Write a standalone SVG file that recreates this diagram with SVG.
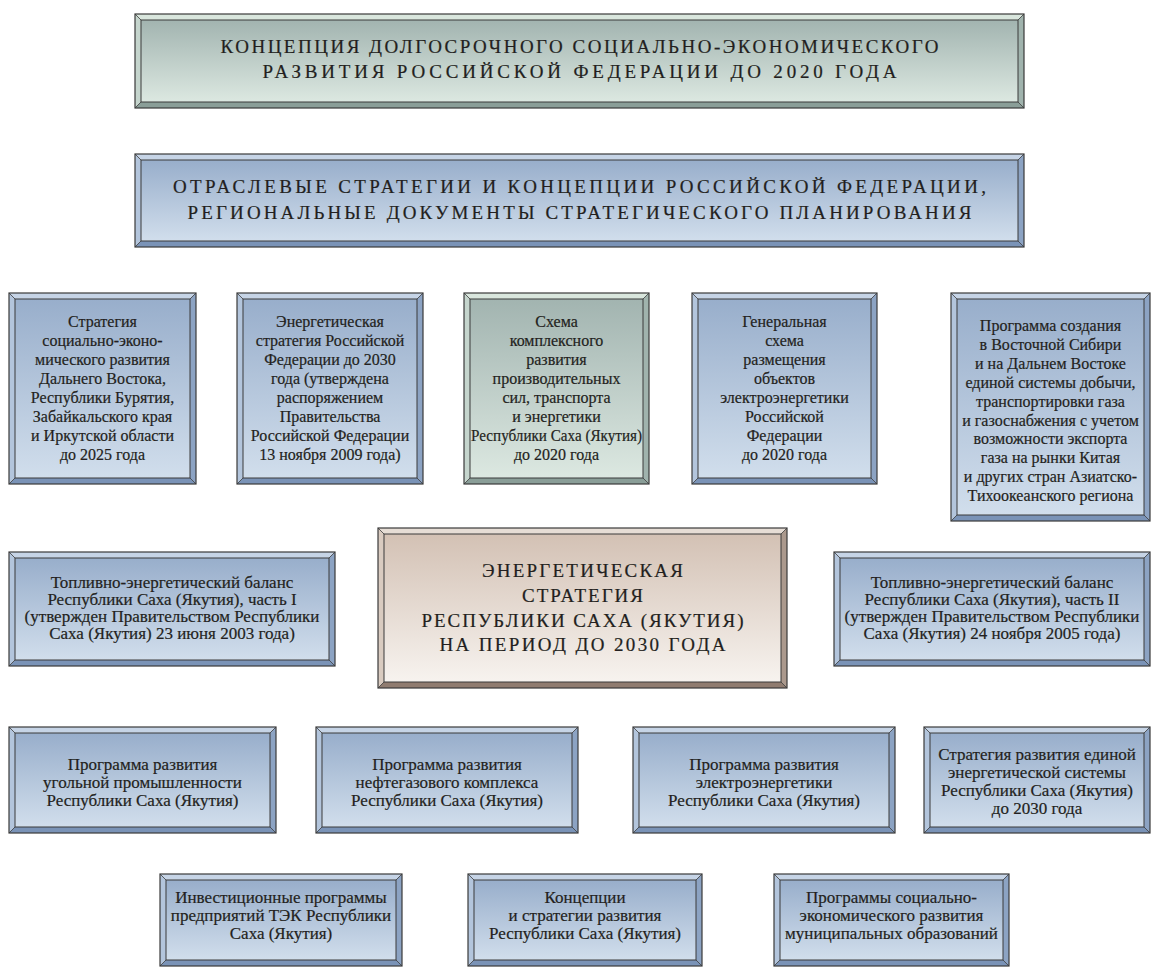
<svg xmlns="http://www.w3.org/2000/svg" width="1159" height="967" viewBox="0 0 1159 967">
<defs>
<linearGradient id="gBlue" x1="0" y1="0" x2="0" y2="1"><stop offset="0" stop-color="#98aecb"/><stop offset="1" stop-color="#d1deec"/></linearGradient>
<linearGradient id="gGreen" x1="0" y1="0" x2="0" y2="1"><stop offset="0" stop-color="#a2b4b0"/><stop offset="1" stop-color="#dce8e1"/></linearGradient>
<linearGradient id="gBrown" x1="0" y1="0" x2="0" y2="1"><stop offset="0" stop-color="#d3c1b4"/><stop offset="1" stop-color="#f7f3ef"/></linearGradient>
<style>
.bt,.bl,.br,.bb{stroke:none}
.blue .bt{fill:#c6d4e6}.blue .bl{fill:#b3c5dc}.blue .br{fill:#8ca3c3}.blue .bb{fill:#7a93b7}
.green .bt{fill:#d9e6dd}.green .bl{fill:#c5d5cd}.green .br{fill:#a0b3ad}.green .bb{fill:#8a9e98}
.brown .bt{fill:#e6ddd5}.brown .bl{fill:#d9cbc0}.brown .br{fill:#ab998d}.brown .bb{fill:#907c70}
.blue .in{fill:url(#gBlue)}.green .in{fill:url(#gGreen)}.brown .in{fill:url(#gBrown)}
.in{stroke:#3a3a3a;stroke-width:1}
.out{fill:none;stroke:#3a3a3a;stroke-width:1.2}
.dg{fill:none;stroke:#3a3a3a;stroke-width:0.8}
text{font-family:"Liberation Serif","Times New Roman",serif;fill:#231f20;stroke:#231f20;stroke-width:0.2;text-anchor:middle}
.s{font-size:16px}
.m{font-size:17px}
.c{font-size:19px}
</style>
</defs>
<rect width="1159" height="967" fill="#ffffff"/>
<g id="connectors"/>

<g id="n-top" class="node green" transform="translate(135,14)">
<path class="bt" d="M0,0H889L883,6H6Z"/><path class="bl" d="M0,0L6,6V88L0,94Z"/><path class="br" d="M889,0V94L883,88V6Z"/><path class="bb" d="M0,94L6,88H883L889,94Z"/>
<rect class="in" x="6" y="6" width="877" height="82"/><rect class="out" x="0" y="0" width="889" height="94"/>
<path class="dg" d="M0,0L6,6M889,0L883,6M0,94L6,88M889,94L883,88"/>
<text class="c" x="444.5" y="39" textLength="718" lengthAdjust="spacing">КОНЦЕПЦИЯ ДОЛГОСРОЧНОГО СОЦИАЛЬНО-ЭКОНОМИЧЕСКОГО</text>
<text class="c" x="444.5" y="64" textLength="634" lengthAdjust="spacing">РАЗВИТИЯ РОССИЙСКОЙ ФЕДЕРАЦИИ ДО 2020 ГОДА</text>
</g>

<g id="n-second" class="node blue" transform="translate(135,154)">
<path class="bt" d="M0,0H889L883,6H6Z"/><path class="bl" d="M0,0L6,6V87L0,93Z"/><path class="br" d="M889,0V93L883,87V6Z"/><path class="bb" d="M0,93L6,87H883L889,93Z"/>
<rect class="in" x="6" y="6" width="877" height="81"/><rect class="out" x="0" y="0" width="889" height="93"/>
<path class="dg" d="M0,0L6,6M889,0L883,6M0,93L6,87M889,93L883,87"/>
<text class="c" x="444.5" y="39" textLength="813" lengthAdjust="spacing">ОТРАСЛЕВЫЕ СТРАТЕГИИ И КОНЦЕПЦИИ РОССИЙСКОЙ ФЕДЕРАЦИИ,</text>
<text class="c" x="444.5" y="65" textLength="784" lengthAdjust="spacing">РЕГИОНАЛЬНЫЕ ДОКУМЕНТЫ СТРАТЕГИЧЕСКОГО ПЛАНИРОВАНИЯ</text>
</g>

<g id="n-r3a" class="node blue" transform="translate(9,293)">
<path class="bt" d="M0,0H187L181,6H6Z"/><path class="bl" d="M0,0L6,6V185L0,191Z"/><path class="br" d="M187,0V191L181,185V6Z"/><path class="bb" d="M0,191L6,185H181L187,191Z"/>
<rect class="in" x="6" y="6" width="175" height="179"/><rect class="out" x="0" y="0" width="187" height="191"/>
<path class="dg" d="M0,0L6,6M187,0L181,6M0,191L6,185M187,191L181,185"/>
<text class="s" x="93.5" y="34">Стратегия</text>
<text class="s" x="93.5" y="53">социально-эконо-</text>
<text class="s" x="93.5" y="72">мического развития</text>
<text class="s" x="93.5" y="91">Дальнего Востока,</text>
<text class="s" x="93.5" y="110">Республики Бурятия,</text>
<text class="s" x="93.5" y="129">Забайкальского края</text>
<text class="s" x="93.5" y="148">и Иркутской области</text>
<text class="s" x="93.5" y="167">до 2025 года</text>
</g>

<g id="n-r3b" class="node blue" transform="translate(237,293)">
<path class="bt" d="M0,0H186L180,6H6Z"/><path class="bl" d="M0,0L6,6V185L0,191Z"/><path class="br" d="M186,0V191L180,185V6Z"/><path class="bb" d="M0,191L6,185H180L186,191Z"/>
<rect class="in" x="6" y="6" width="174" height="179"/><rect class="out" x="0" y="0" width="186" height="191"/>
<path class="dg" d="M0,0L6,6M186,0L180,6M0,191L6,185M186,191L180,185"/>
<text class="s" x="93" y="34">Энергетическая</text>
<text class="s" x="93" y="53">стратегия Российской</text>
<text class="s" x="93" y="72">Федерации до 2030</text>
<text class="s" x="93" y="91">года (утверждена</text>
<text class="s" x="93" y="110">распоряжением</text>
<text class="s" x="93" y="129">Правительства</text>
<text class="s" x="93" y="148">Российской Федерации</text>
<text class="s" x="93" y="167">13 ноября 2009 года)</text>
</g>

<g id="n-r3c" class="node green" transform="translate(464,293)">
<path class="bt" d="M0,0H185L179,6H6Z"/><path class="bl" d="M0,0L6,6V185L0,191Z"/><path class="br" d="M185,0V191L179,185V6Z"/><path class="bb" d="M0,191L6,185H179L185,191Z"/>
<rect class="in" x="6" y="6" width="173" height="179"/><rect class="out" x="0" y="0" width="185" height="191"/>
<path class="dg" d="M0,0L6,6M185,0L179,6M0,191L6,185M185,191L179,185"/>
<text class="s" x="92.5" y="34">Схема</text>
<text class="s" x="92.5" y="53">комплексного</text>
<text class="s" x="92.5" y="72">развития</text>
<text class="s" x="92.5" y="91">производительных</text>
<text class="s" x="92.5" y="110">сил, транспорта</text>
<text class="s" x="92.5" y="129">и энергетики</text>
<text class="s" x="92.5" y="148" textLength="171" lengthAdjust="spacingAndGlyphs">Республики Саха (Якутия)</text>
<text class="s" x="92.5" y="167">до 2020 года</text>
</g>

<g id="n-r3d" class="node blue" transform="translate(692,293)">
<path class="bt" d="M0,0H185L179,6H6Z"/><path class="bl" d="M0,0L6,6V185L0,191Z"/><path class="br" d="M185,0V191L179,185V6Z"/><path class="bb" d="M0,191L6,185H179L185,191Z"/>
<rect class="in" x="6" y="6" width="173" height="179"/><rect class="out" x="0" y="0" width="185" height="191"/>
<path class="dg" d="M0,0L6,6M185,0L179,6M0,191L6,185M185,191L179,185"/>
<text class="s" x="92.5" y="34">Генеральная</text>
<text class="s" x="92.5" y="53">схема</text>
<text class="s" x="92.5" y="72">размещения</text>
<text class="s" x="92.5" y="91">объектов</text>
<text class="s" x="92.5" y="110">электроэнергетики</text>
<text class="s" x="92.5" y="129">Российской</text>
<text class="s" x="92.5" y="148">Федерации</text>
<text class="s" x="92.5" y="167">до 2020 года</text>
</g>

<g id="n-r3e" class="node blue" transform="translate(951,293)">
<path class="bt" d="M0,0H199L193,6H6Z"/><path class="bl" d="M0,0L6,6V222L0,228Z"/><path class="br" d="M199,0V228L193,222V6Z"/><path class="bb" d="M0,228L6,222H193L199,228Z"/>
<rect class="in" x="6" y="6" width="187" height="216"/><rect class="out" x="0" y="0" width="199" height="228"/>
<path class="dg" d="M0,0L6,6M199,0L193,6M0,228L6,222M199,228L193,222"/>
<text class="s" x="99.5" y="38">Программа создания</text>
<text class="s" x="99.5" y="56.9">в Восточной Сибири</text>
<text class="s" x="99.5" y="75.8">и на Дальнем Востоке</text>
<text class="s" x="99.5" y="94.7">единой системы добычи,</text>
<text class="s" x="99.5" y="113.6">транспортировки газа</text>
<text class="s" x="99.5" y="132.5">и газоснабжения с учетом</text>
<text class="s" x="99.5" y="151.4">возможности экспорта</text>
<text class="s" x="99.5" y="170.3">газа на рынки Китая</text>
<text class="s" x="99.5" y="189.2">и других стран Азиатско-</text>
<text class="s" x="99.5" y="208.1">Тихоокеанского региона</text>
</g>

<g id="n-r4a" class="node blue" transform="translate(9,552)">
<path class="bt" d="M0,0H326L320,6H6Z"/><path class="bl" d="M0,0L6,6V108L0,114Z"/><path class="br" d="M326,0V114L320,108V6Z"/><path class="bb" d="M0,114L6,108H320L326,114Z"/>
<rect class="in" x="6" y="6" width="314" height="102"/><rect class="out" x="0" y="0" width="326" height="114"/>
<path class="dg" d="M0,0L6,6M326,0L320,6M0,114L6,108M326,114L320,108"/>
<text class="m" x="163" y="36">Топливно-энергетический баланс</text>
<text class="m" x="163" y="53">Республики Саха (Якутия), часть I</text>
<text class="m" x="163" y="70">(утвержден Правительством Республики</text>
<text class="m" x="163" y="87">Саха (Якутия) 23 июня 2003 года)</text>
</g>

<g id="n-center" class="node brown" transform="translate(378,528)">
<path class="bt" d="M0,0H409L403,6H6Z"/><path class="bl" d="M0,0L6,6V154L0,160Z"/><path class="br" d="M409,0V160L403,154V6Z"/><path class="bb" d="M0,160L6,154H403L409,160Z"/>
<rect class="in" x="6" y="6" width="397" height="148"/><rect class="out" x="0" y="0" width="409" height="160"/>
<path class="dg" d="M0,0L6,6M409,0L403,6M0,160L6,154M409,160L403,154"/>
<text class="c" x="204.5" y="49" textLength="201" lengthAdjust="spacing">ЭНЕРГЕТИЧЕСКАЯ</text>
<text class="c" x="204.5" y="74" textLength="121" lengthAdjust="spacing">СТРАТЕГИЯ</text>
<text class="c" x="204.5" y="99" textLength="322" lengthAdjust="spacing">РЕСПУБЛИКИ САХА (ЯКУТИЯ)</text>
<text class="c" x="204.5" y="123" textLength="286" lengthAdjust="spacing">НА ПЕРИОД ДО 2030 ГОДА</text>
</g>

<g id="n-r4c" class="node blue" transform="translate(834,552)">
<path class="bt" d="M0,0H316L310,6H6Z"/><path class="bl" d="M0,0L6,6V108L0,114Z"/><path class="br" d="M316,0V114L310,108V6Z"/><path class="bb" d="M0,114L6,108H310L316,114Z"/>
<rect class="in" x="6" y="6" width="304" height="102"/><rect class="out" x="0" y="0" width="316" height="114"/>
<path class="dg" d="M0,0L6,6M316,0L310,6M0,114L6,108M316,114L310,108"/>
<text class="m" x="158" y="36">Топливно-энергетический баланс</text>
<text class="m" x="158" y="53">Республики Саха (Якутия), часть II</text>
<text class="m" x="158" y="70">(утвержден Правительством Республики</text>
<text class="m" x="158" y="87">Саха (Якутия) 24 ноября 2005 года)</text>
</g>

<g id="n-r5a" class="node blue" transform="translate(9,727)">
<path class="bt" d="M0,0H267L261,6H6Z"/><path class="bl" d="M0,0L6,6V100L0,106Z"/><path class="br" d="M267,0V106L261,100V6Z"/><path class="bb" d="M0,106L6,100H261L267,106Z"/>
<rect class="in" x="6" y="6" width="255" height="94"/><rect class="out" x="0" y="0" width="267" height="106"/>
<path class="dg" d="M0,0L6,6M267,0L261,6M0,106L6,100M267,106L261,100"/>
<text class="m" x="133.5" y="43">Программа развития</text>
<text class="m" x="133.5" y="61">угольной промышленности</text>
<text class="m" x="133.5" y="79">Республики Саха (Якутия)</text>
</g>

<g id="n-r5b" class="node blue" transform="translate(316,727)">
<path class="bt" d="M0,0H262L256,6H6Z"/><path class="bl" d="M0,0L6,6V100L0,106Z"/><path class="br" d="M262,0V106L256,100V6Z"/><path class="bb" d="M0,106L6,100H256L262,106Z"/>
<rect class="in" x="6" y="6" width="250" height="94"/><rect class="out" x="0" y="0" width="262" height="106"/>
<path class="dg" d="M0,0L6,6M262,0L256,6M0,106L6,100M262,106L256,100"/>
<text class="m" x="131" y="43">Программа развития</text>
<text class="m" x="131" y="61">нефтегазового комплекса</text>
<text class="m" x="131" y="79">Республики Саха (Якутия)</text>
</g>

<g id="n-r5c" class="node blue" transform="translate(633,727)">
<path class="bt" d="M0,0H262L256,6H6Z"/><path class="bl" d="M0,0L6,6V100L0,106Z"/><path class="br" d="M262,0V106L256,100V6Z"/><path class="bb" d="M0,106L6,100H256L262,106Z"/>
<rect class="in" x="6" y="6" width="250" height="94"/><rect class="out" x="0" y="0" width="262" height="106"/>
<path class="dg" d="M0,0L6,6M262,0L256,6M0,106L6,100M262,106L256,100"/>
<text class="m" x="131" y="43">Программа развития</text>
<text class="m" x="131" y="61">электроэнергетики</text>
<text class="m" x="131" y="79">Республики Саха (Якутия)</text>
</g>

<g id="n-r5d" class="node blue" transform="translate(924,727)">
<path class="bt" d="M0,0H226L220,6H6Z"/><path class="bl" d="M0,0L6,6V100L0,106Z"/><path class="br" d="M226,0V106L220,100V6Z"/><path class="bb" d="M0,106L6,100H220L226,106Z"/>
<rect class="in" x="6" y="6" width="214" height="94"/><rect class="out" x="0" y="0" width="226" height="106"/>
<path class="dg" d="M0,0L6,6M226,0L220,6M0,106L6,100M226,106L220,100"/>
<text class="m" x="113" y="33">Стратегия развития единой</text>
<text class="m" x="113" y="51">энергетической системы</text>
<text class="m" x="113" y="69">Республики Саха (Якутия)</text>
<text class="m" x="113" y="87">до 2030 года</text>
</g>

<g id="n-r6a" class="node blue" transform="translate(160,874)">
<path class="bt" d="M0,0H242L236,6H6Z"/><path class="bl" d="M0,0L6,6V86L0,92Z"/><path class="br" d="M242,0V92L236,86V6Z"/><path class="bb" d="M0,92L6,86H236L242,92Z"/>
<rect class="in" x="6" y="6" width="230" height="80"/><rect class="out" x="0" y="0" width="242" height="92"/>
<path class="dg" d="M0,0L6,6M242,0L236,6M0,92L6,86M242,92L236,86"/>
<text class="m" x="121" y="29">Инвестиционные программы</text>
<text class="m" x="121" y="47">предприятий ТЭК Республики</text>
<text class="m" x="121" y="65">Саха (Якутия)</text>
</g>

<g id="n-r6b" class="node blue" transform="translate(468,874)">
<path class="bt" d="M0,0H234L228,6H6Z"/><path class="bl" d="M0,0L6,6V86L0,92Z"/><path class="br" d="M234,0V92L228,86V6Z"/><path class="bb" d="M0,92L6,86H228L234,92Z"/>
<rect class="in" x="6" y="6" width="222" height="80"/><rect class="out" x="0" y="0" width="234" height="92"/>
<path class="dg" d="M0,0L6,6M234,0L228,6M0,92L6,86M234,92L228,86"/>
<text class="m" x="117" y="29">Концепции</text>
<text class="m" x="117" y="47">и стратегии развития</text>
<text class="m" x="117" y="65">Республики Саха (Якутия)</text>
</g>

<g id="n-r6c" class="node blue" transform="translate(774,874)">
<path class="bt" d="M0,0H235L229,6H6Z"/><path class="bl" d="M0,0L6,6V86L0,92Z"/><path class="br" d="M235,0V92L229,86V6Z"/><path class="bb" d="M0,92L6,86H229L235,92Z"/>
<rect class="in" x="6" y="6" width="223" height="80"/><rect class="out" x="0" y="0" width="235" height="92"/>
<path class="dg" d="M0,0L6,6M235,0L229,6M0,92L6,86M235,92L229,86"/>
<text class="m" x="117.5" y="29">Программы социально-</text>
<text class="m" x="117.5" y="47">экономического развития</text>
<text class="m" x="117.5" y="65">муниципальных образований</text>
</g>
</svg>
